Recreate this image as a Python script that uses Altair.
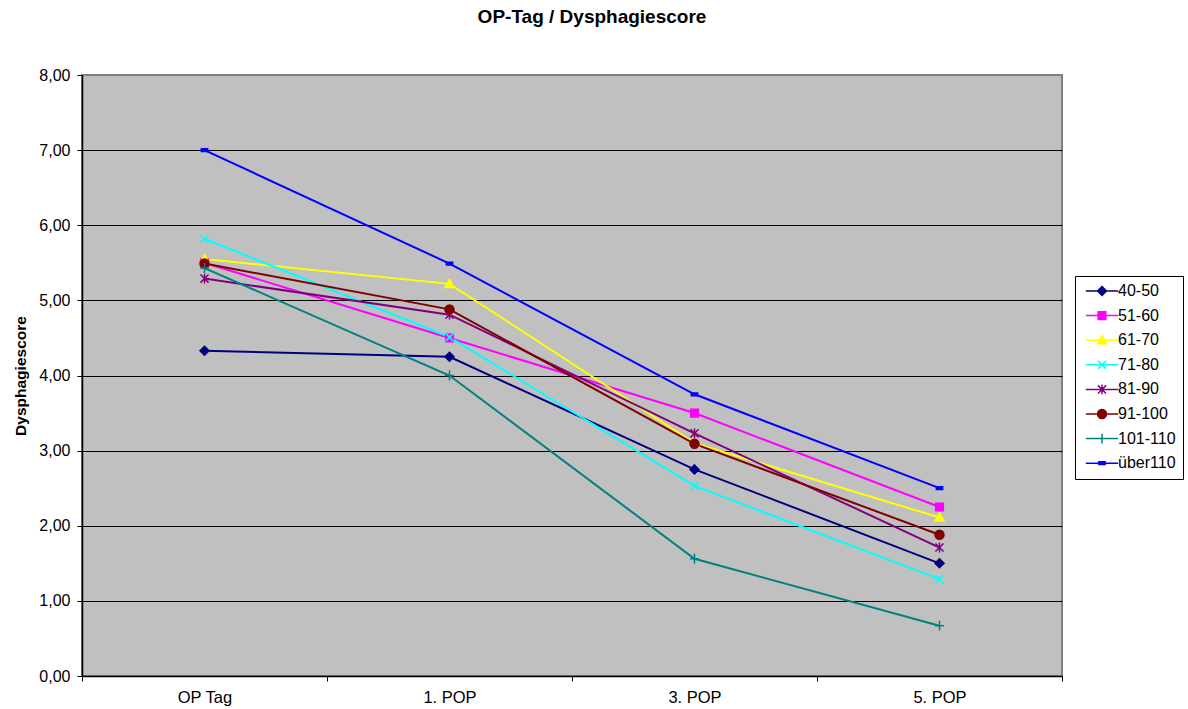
import altair as alt
import pandas as pd

days = ["OP Tag", "1. POP", "3. POP", "5. POP"]
groups = ["40-50", "51-60", "61-70", "71-80", "81-90", "91-100", "101-110", "über110"]
colors = ["#000080", "#FF00FF", "#FFFF00", "#00FFFF", "#800080", "#800000", "#008080", "#0000FF"]

s_40_50 = [4.33, 4.25, 2.75, 1.50]
s_51_60 = [5.50, 4.50, 3.50, 2.25]
s_61_70 = [5.55, 5.22, 3.10, 2.11]
s_71_80 = [5.82, 4.51, 2.53, 1.29]
s_81_90 = [5.29, 4.81, 3.23, 1.71]
s_91_100 = [5.49, 4.88, 3.09, 1.88]
s_101_110 = [5.43, 4.00, 1.56, 0.67]
s_ueber110 = [7.00, 5.49, 3.75, 2.50]
series = [s_40_50, s_51_60, s_61_70, s_71_80, s_81_90, s_91_100, s_101_110, s_ueber110]

y_ticks = [0, 1, 2, 3, 4, 5, 6, 7, 8]

marker_paths = [
    "M0,-1L1,0L0,1L-1,0Z",
    "M-0.85,-0.85H0.85V0.85H-0.85Z",
    "M0,-1L1,0.8H-1Z",
    "M-0.9,-0.9L0.9,0.9M-0.9,0.9L0.9,-0.9",
    "M-0.9,-0.9L0.9,0.9M-0.9,0.9L0.9,-0.9M0,-1.1V1.1",
    "M1,0A1,1 0 1,1 -1,0A1,1 0 1,1 1,0Z",
    "M-1,0H1M0,-1.1V1.1",
    "M-0.7,-0.3H0.7V0.3H-0.7Z",
]
legend_paths = ["M-3.6,0H3.6" + p for p in marker_paths]

rows = []
for g, vals in zip(groups, series):
    for d, v in zip(days, vals):
        rows.append({"Gruppe": g, "Tag": d, "Score": v})
df = pd.DataFrame(rows)

font = "Liberation Sans"

x_enc = alt.X(
    "Tag:N", sort=days,
    scale=alt.Scale(type="band", domain=days, paddingInner=0, paddingOuter=0),
    axis=alt.Axis(title=None, tickBand="extent", labelAngle=0, labelFontSize=16.5,
                  labelPadding=8, tickSize=5, grid=False, domainColor="black",
                  tickColor="black", labelColor="black", labelFont=font, domainWidth=1.5),
)
y_enc = alt.Y(
    "Score:Q",
    scale=alt.Scale(domain=[0, 8], nice=False, zero=True),
    axis=alt.Axis(title="Dysphagiescore", values=y_ticks,
                  labelExpr="replace(format(datum.value, '.2f'), '.', ',')",
                  labelFontSize=16, labelPadding=7, labelColor="black", labelFont=font,
                  tickSize=5, tickColor="black", domainColor="black", domainWidth=1.5,
                  grid=True,
                  gridColor=alt.condition("datum.value == 8", alt.value("#808080"), alt.value("black")),
                  gridWidth=1,
                  titleFont=font, titleFontSize=15.5, titleFontWeight="bold", titleColor="black",
                  titlePadding=10),
)

base = alt.Chart(df)

lines = base.mark_line(strokeWidth=2).encode(
    x=x_enc, y=y_enc,
    color=alt.Color("Gruppe:N", scale=alt.Scale(domain=groups, range=colors), legend=None),
)

points = base.mark_point(filled=False, opacity=1, size=81, strokeWidth=1.5).encode(
    x=x_enc, y=y_enc,
    color=alt.Color("Gruppe:N", scale=alt.Scale(domain=groups, range=colors), legend=None),
    fill=alt.Fill("Gruppe:N", scale=alt.Scale(domain=groups, range=colors), legend=None),
    shape=alt.Shape("Gruppe:N", scale=alt.Scale(domain=groups, range=marker_paths), legend=None),
)

leg = alt.Legend(
    title=None, orient="none", legendX=993, legendY=201,
    fillColor="white", strokeColor="black", padding=7,
    labelFont=font, labelFontSize=16, labelColor="black",
    symbolSize=81, symbolStrokeWidth=1.5, symbolOffset=12, labelOffset=8,
    rowPadding=8.6,
)

legend_layer = base.transform_filter("false").mark_point(filled=False, opacity=1, size=81, strokeWidth=1.5).encode(
    x=x_enc, y=y_enc,
    color=alt.Color("Gruppe:N", scale=alt.Scale(domain=groups, range=colors), legend=leg),
    fill=alt.Fill("Gruppe:N", scale=alt.Scale(domain=groups, range=colors), legend=leg),
    shape=alt.Shape("Gruppe:N", scale=alt.Scale(domain=groups, range=legend_paths), legend=leg),
)

chart = alt.layer(lines, points, legend_layer).resolve_scale(
    shape="independent", color="independent", fill="independent"
).resolve_legend(
    shape="independent", color="independent", fill="independent"
).properties(
    width=980, height=601,
    autosize=alt.AutoSizeParams(type="none"),
    padding={"left": 82, "top": 75, "right": 126, "bottom": 33},
    background="white",
    title=alt.TitleParams("OP-Tag / Dysphagiescore", font=font, fontSize=19, fontWeight="bold",
                          color="black", anchor="middle", dx=20, offset=40, frame="group"),
).configure_view(fill="#C0C0C0", stroke="#808080", strokeWidth=2)

chart.save("out.html", embed_options={"renderer": "svg", "actions": False})
